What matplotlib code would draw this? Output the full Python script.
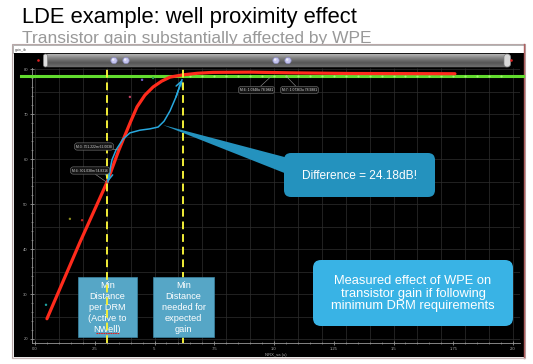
import numpy as np
import matplotlib
matplotlib.use("Agg")
import matplotlib.pyplot as plt
from matplotlib.patches import FancyBboxPatch, Rectangle, Polygon, Circle
from matplotlib.transforms import Affine2D

plt.rcParams['font.family'] = ['Liberation Sans', 'DejaVu Sans']

# ---------------- data ----------------
TITLE = "LDE example: well proximity effect"
SUBTITLE = "Transistor gain substantially affected by WPE"

red_x = [0.05, 0.188, 0.301, 0.351, 0.40, 0.427, 0.46, 0.494, 0.53, 0.565, 0.619, 0.68, 0.745, 0.90, 1.067, 1.318, 1.757]
red_y = [24.5, 41.5, 54.8, 62.0, 68.3, 71.6, 74.2, 76.0, 77.3, 78.2, 78.7, 79.05, 79.25, 79.3, 79.15, 79.0, 78.95]

blue_x = [0.305, 0.314, 0.322, 0.339, 0.368, 0.397, 0.439, 0.481, 0.515, 0.540, 0.565, 0.590, 0.615]
blue_y = [54.9, 57.6, 59.8, 62.0, 64.4, 65.8, 66.4, 66.7, 67.1, 68.4, 70.7, 73.8, 77.6]

green_level = 78.45
green_mark_x = [0.65, 0.70, 0.75, 0.80, 0.85, 0.90, 0.95, 1.00, 1.05, 1.10, 1.15, 1.20, 1.25,
                1.30, 1.35, 1.40, 1.45, 1.50, 1.55, 1.60, 1.65, 1.70, 1.75, 1.80, 1.85, 1.90, 1.95]

drm_lines = [0.30, 0.62]

stray_x = [0.448, 0.494, 0.397, 0.146, 0.197, 0.046]
stray_y = [77.6, 78.0, 73.8, 46.7, 46.4, 27.6]
stray_c = ['#7060d0', '#30a050', '#c04060', '#8a8a20', '#c02020', '#20a0a0']

marker_labels = ["M:3: 351.222m 62.0038", "M:4: 301.038m 54.8316",
                 "M:6: 1.0348u 78.9881", "M:7: 1.07363u 78.9881"]
marker_x = [0.351, 0.301, 0.99, 1.05]
marker_y = [62.0, 54.8, green_level, green_level]

x_ticks = [0.0, 0.25, 0.5, 0.75, 1.0, 1.25, 1.5, 1.75, 2.0]
x_tick_labels = ['0.0', '.25', '.5', '.75', '1.0', '1.25', '1.5', '1.75', '2.0']
y_ticks = [20, 30, 40, 50, 60, 70, 80]
y_tick_labels = ['20', '30', '40', '50', '60', '70', '80']

box1_text = "Min\nDistance\nper DRM\n(Active to\nNWell)"
box2_text = "Min\nDistance\nneeded for\nexpected\ngain"
diff_text = "Difference = 24.18dB!"
meas_text = "Measured effect of WPE on\ntransistor gain if following\nminimum DRM requirements"

# ---------------- figure ----------------
W, H = 533, 364
fig = plt.figure(figsize=(W / 100, H / 100), dpi=100)
fig.patch.set_facecolor('white')
px = Affine2D().scale(1 / W, -1 / H).translate(0, 1) + fig.transFigure

fig.text(22, 22.7, TITLE, transform=px, fontsize=15.8, color='black', va='baseline', ha='left')
fig.text(22, 43.5, SUBTITLE, transform=px, fontsize=12.5, color='#999999', va='baseline', ha='left', zorder=-1)

# window frame / background
bg = fig.add_axes([0, 0, 1, 1], zorder=0)
bg.set_xlim(0, W)
bg.set_ylim(H, 0)
bg.axis('off')
bg.patch.set_alpha(0)

bg.add_patch(Rectangle((11.5, 44), 513.5, 314, fc='#eeeeee', ec='#b8a8a8', lw=0.8))
bg.add_patch(Rectangle((12.5, 45), 511, 8, fc='white', ec='#9a9a9a', lw=0.5))
bg.text(15, 49.5, 'gain_ib', fontsize=2.6, color='#444444', va='center', ha='left')
bg.add_patch(Rectangle((13.5, 53), 510, 303.5, fc='black', ec='none'))
bg.plot([524.3, 524.3], [44, 357.5], color='#b06060', lw=1.0)
bg.plot([12, 524.5], [357.5, 357.5], color='#c8b8b8', lw=0.8)

# scrollbar
sb = FancyBboxPatch((43.5, 54), 467, 13, boxstyle='round,pad=0,rounding_size=5',
                    fc='#6a6a6a', ec='#404040', lw=0.6)
bg.add_patch(sb)
grad = np.linspace(0, 1, 64).reshape(-1, 1)
im = bg.imshow(grad, extent=[43.5, 510.5, 67, 54], cmap=matplotlib.colors.LinearSegmentedColormap.from_list(
    'g', ['#b4b4b4', '#7e7e7e', '#565656', '#6e6e6e']), aspect='auto', zorder=2)
im.set_clip_path(sb)
bg.add_patch(FancyBboxPatch((43.5, 54), 4, 13, boxstyle='round,pad=0,rounding_size=2',
                            fc='#e0e0e0', ec='#808080', lw=0.5, zorder=3))
bg.add_patch(FancyBboxPatch((504, 54), 6.5, 13, boxstyle='round,pad=0,rounding_size=3',
                            fc='#d8d8d8', ec='#808080', lw=0.5, zorder=3))
for cx in (38.5, 511.5):
    bg.add_patch(Circle((cx, 60.5), 1.3, fc='#e02020', ec='none', zorder=4))
for cx in (114, 126, 276, 288):
    bg.add_patch(Circle((cx, 60.5), 3.2, fc='#c4c4ee', ec='#8888b8', lw=0.5, zorder=4))
    bg.add_patch(Circle((cx - 0.8, 59.6), 1.2, fc='white', ec='none', alpha=0.7, zorder=5))

# ---------------- plot axes ----------------
def dx(p):
    return (p - 35) * 2.0 / 478.0

def dy(p):
    return 70 + (114 - p) / 4.5

ax = fig.add_axes([32 / W, 1 - 343 / H, 488 / W, 275 / H], zorder=1)
ax.set_facecolor('black')
ax.set_xlim(dx(32), dx(520))
ax.set_ylim(dy(343), dy(68))

ax.vlines(np.arange(0, 2.05, 0.1), dy(343), dy(68), colors='#2e2e2e', lw=0.5, zorder=0)
ax.hlines(np.arange(20, 81, 5), dx(32), dx(520), colors='#2e2e2e', lw=0.5, zorder=0)

for s in ('top', 'right'):
    ax.spines[s].set_visible(False)
for s in ('left', 'bottom'):
    ax.spines[s].set_color('#9a9a9a')
    ax.spines[s].set_linewidth(0.6)

ax.set_xticks(x_ticks)
ax.set_xticklabels(x_tick_labels)
ax.set_xticks(np.arange(0, 2.01, 0.05), minor=True)
ax.set_yticks(y_ticks)
ax.set_yticklabels(y_tick_labels)
ax.set_yticks(np.arange(20, 81, 2), minor=True)
ax.tick_params(which='major', direction='inout', length=3, width=0.5, colors='#aaaaaa',
               labelsize=3, pad=1.5)
ax.tick_params(which='minor', direction='inout', length=1.8, width=0.4, colors='#aaaaaa')
ax.set_xlabel('NRX_sa (u)', fontsize=3, color='#aaaaaa', labelpad=1)

# series
ax.axhline(green_level, xmin=-0.023, xmax=1.007, color='#62dc2e', lw=2.2, clip_on=False, zorder=3)
ax.scatter(green_mark_x, [green_level] * len(green_mark_x), s=2.5, color='#9cf46a', zorder=3.5, lw=0)
ax.plot(red_x, red_y, color='#ff2b1c', lw=2.3, solid_capstyle='round', solid_joinstyle='round', zorder=4)
ax.scatter(stray_x, stray_y, s=3, c=stray_c, zorder=4, lw=0)

BLUE = '#28a8de'
ax.plot(blue_x, blue_y, color=BLUE, lw=1.1, zorder=5)
ax.annotate('', xy=(blue_x[0], blue_y[0]), xytext=(blue_x[1], blue_y[1]),
            arrowprops=dict(arrowstyle='->,head_length=0.45,head_width=0.25', color=BLUE, lw=1.1,
                            shrinkA=0, shrinkB=0), zorder=5)
ax.annotate('', xy=(blue_x[-1], blue_y[-1]), xytext=(blue_x[-2], blue_y[-2]),
            arrowprops=dict(arrowstyle='->,head_length=0.45,head_width=0.25', color=BLUE, lw=1.1,
                            shrinkA=0, shrinkB=0), zorder=5)

# box 1 (below the yellow lines)
ax.add_patch(Rectangle((78, 277), 59, 60, transform=px, fc='#56a6c6', ec='#3c86a4', lw=0.5,
                       clip_on=False, zorder=5.5))
ax.text(107.5, 307.5, box1_text, transform=px, fontsize=6.6, color='white', ha='center', va='center',
        linespacing=1.26, zorder=5.6)
ax.plot([96, 119], [333.0, 333.0], transform=px, color='#e02020', lw=0.8, ls=(0, (1.5, 0.6)),
        clip_on=False, zorder=5.7)

for xv in drm_lines:
    ax.axvline(xv, color='#f2ee38', lw=1.4, ls=(0, (4, 2.5)), zorder=6)

# box 2 (over the yellow line)
ax.add_patch(Rectangle((153, 277), 61, 60, transform=px, fc='#56a6c6', ec='#3c86a4', lw=0.5,
                       clip_on=False, zorder=7))
ax.text(183.5, 307.5, box2_text, transform=px, fontsize=6.6, color='white', ha='center', va='center',
        linespacing=1.26, zorder=7.1)

# callouts
ax.add_patch(Polygon([(163, 125), (292, 159), (292, 176)], closed=True, transform=px,
                     fc='#2492be', ec='none', clip_on=False, zorder=7))
ax.add_patch(FancyBboxPatch((284, 153), 151, 44, boxstyle='round,pad=0,rounding_size=7', transform=px,
                            fc='#2492be', ec='none', clip_on=False, zorder=7))
ax.text(359.5, 176, diff_text, transform=px, fontsize=8.6, color='white', ha='center', va='center',
        zorder=7.1)
ax.add_patch(FancyBboxPatch((313, 260), 200, 66, boxstyle='round,pad=0,rounding_size=8', transform=px,
                            fc='#39b3e5', ec='none', clip_on=False, zorder=7))
ax.text(413, 293.5, meas_text, transform=px, fontsize=9.3, color='white', ha='center', va='center',
        linespacing=1.02, zorder=7.1)

# marker tooltips
tip_pos = [(94, 146.5), (90, 170.5), (256.5, 90), (299.5, 90)]
for lab, mx, my, (tx, ty) in zip(marker_labels, marker_x, marker_y, tip_pos):
    ax.annotate(lab, xy=(mx, my), xycoords='data', xytext=(tx, ty), textcoords=px,
                fontsize=2.4, color='#dddddd', ha='center', va='center', zorder=6.5,
                bbox=dict(boxstyle='round,pad=0.5,rounding_size=0.9', fc='#141414', ec='#777777', lw=0.4),
                arrowprops=dict(arrowstyle='-', color='#999999', lw=0.4, shrinkA=0, shrinkB=0))

fig.savefig('out.png', dpi=100, facecolor='white')
